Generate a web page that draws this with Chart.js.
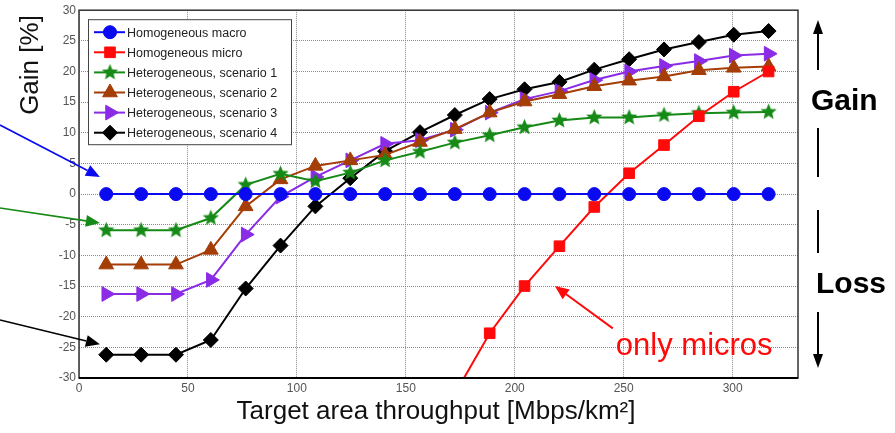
<!DOCTYPE html>
<html>
<head>
<meta charset="utf-8">
<script src="https://cdn.jsdelivr.net/npm/chart.js@4/dist/chart.umd.min.js"></script>
<style>
  html, body { margin: 0; padding: 0; background: #fff; }
  #wrap { position: relative; width: 895px; height: 433px; }
</style>
</head>
<body>
<div id="wrap"><canvas id="gainChart"></canvas></div>
<script>
// data
const throughput = [12.5, 28.5, 44.5, 60.5, 76.5, 92.5, 108.5, 124.5, 140.5, 156.5,
                    172.5, 188.5, 204.5, 220.5, 236.5, 252.5, 268.5, 284.5, 300.5, 316.5];
const homMacro = [0, 0, 0, 0, 0, 0, 0, 0, 0, 0, 0, 0, 0, 0, 0, 0, 0, 0, 0, 0];
const homMicro = [null, null, null, null, null, null, null, null, null, null,
                  -32.6, -22.7, -15.0, -8.5, -2.1, 3.4, 8.0, 12.7, 16.7, 20.0];
const hetScen1 = [-5.9, -5.9, -5.9, -3.9, 1.5, 3.3, 2.1, 3.5, 5.5, 6.9,
                  8.4, 9.6, 10.9, 12.0, 12.5, 12.5, 12.9, 13.2, 13.3, 13.4];
const hetScen2 = [-11.5, -11.5, -11.5, -9.1, -2.0, 2.4, 4.6, 5.5, 6.4, 8.5,
                  10.6, 13.3, 15.1, 16.3, 17.6, 18.5, 19.2, 20.2, 20.6, 20.8];
const hetScen3 = [-16.3, -16.3, -16.3, -14.0, -6.6, -0.4, 2.8, 5.5, 8.2, 8.8,
                  10.5, 13.3, 15.5, 16.8, 18.6, 20.0, 20.9, 21.7, 22.6, 22.9];
const hetScen4 = [-26.2, -26.2, -26.2, -23.8, -15.4, -8.4, -2.0, 2.6, 7.0, 10.1,
                  12.9, 15.5, 17.1, 18.3, 20.3, 22.0, 23.6, 24.8, 26.0, 26.6];
const seriesNames = ["Homogeneous macro", "Homogeneous micro", "Heterogeneous, scenario 1",
                     "Heterogeneous, scenario 2", "Heterogeneous, scenario 3", "Heterogeneous, scenario 4"];
const xTickValues = [0, 50, 100, 150, 200, 250, 300];
const yTickValues = [-30, -25, -20, -15, -10, -5, 0, 5, 10, 15, 20, 25, 30];

// filled star marker (chart.js 'star' is only strokes)
function starCanvas(color, r) {
  const c = document.createElement("canvas");
  const s = Math.ceil(r * 2 + 2);
  c.width = s; c.height = s;
  const g = c.getContext("2d");
  g.fillStyle = color;
  g.beginPath();
  for (let i = 0; i < 10; i++) {
    const rr = i % 2 ? r * 0.45 : r;
    const a = -Math.PI / 2 + i * Math.PI / 5;
    g.lineTo(s / 2 + rr * Math.cos(a), s / 2 + rr * Math.sin(a));
  }
  g.closePath();
  g.fill();
  return c;
}

const styles = [
  { color: "#0a0af0", pointStyle: "circle", radius: 6.5, rotation: 0 },
  { color: "#ff0a0a", pointStyle: "rect", radius: 7.5, rotation: 0 },
  { color: "#168a16", pointStyle: starCanvas("#168a16", 8.5), radius: 8.5, rotation: 0 },
  { color: "#a43d06", pointStyle: "triangle", radius: 8.5, rotation: 0 },
  { color: "#8a2be6", pointStyle: "triangle", radius: 8.5, rotation: 90 },
  { color: "#000000", pointStyle: "rectRot", radius: 7.5, rotation: 0 },
];
const seriesValues = [homMacro, homMicro, hetScen1, hetScen2, hetScen3, hetScen4];

function toPoints(values) {
  return throughput.map((x, i) => ({ x: x, y: values[i] }));
}

const datasets = seriesValues.map((vals, i) => ({
  label: seriesNames[i],
  data: toPoints(vals),
  borderColor: styles[i].color,
  backgroundColor: styles[i].color,
  borderWidth: 2,
  pointStyle: styles[i].pointStyle,
  pointRadius: styles[i].radius,
  pointRotation: styles[i].rotation,
  pointBorderWidth: 1,
  tension: 0,
  spanGaps: false,
}));

function arrow(ctx, x1, y1, x2, y2, color, lw, headLen, headW) {
  const a = Math.atan2(y2 - y1, x2 - x1);
  const bx = x2 - headLen * Math.cos(a), by = y2 - headLen * Math.sin(a);
  ctx.save();
  ctx.strokeStyle = color; ctx.fillStyle = color; ctx.lineWidth = lw;
  ctx.beginPath(); ctx.moveTo(x1, y1); ctx.lineTo(bx, by); ctx.stroke();
  ctx.beginPath();
  ctx.moveTo(x2, y2);
  ctx.lineTo(bx + headW / 2 * Math.sin(a), by - headW / 2 * Math.cos(a));
  ctx.lineTo(bx - headW / 2 * Math.sin(a), by + headW / 2 * Math.cos(a));
  ctx.closePath(); ctx.fill();
  ctx.restore();
}

const decorations = {
  id: "decorations",
  afterDraw(chart) {
    const ctx = chart.ctx;
    const area = chart.chartArea;
    const xs = chart.scales.x, ys = chart.scales.y;
    const px = v => xs.getPixelForValue(v);
    const py = v => ys.getPixelForValue(v);

    // plot frame
    ctx.save();
    ctx.strokeStyle = "#333"; ctx.lineWidth = 1.5;
    ctx.strokeRect(area.left, area.top, area.right - area.left, area.bottom - area.top);
    ctx.strokeStyle = "#000"; ctx.lineWidth = 2;
    ctx.beginPath(); ctx.moveTo(area.left, area.bottom); ctx.lineTo(area.right, area.bottom); ctx.stroke();
    ctx.restore();

    // legend box inside the plot
    const lx = area.left + 9, ly = area.top + 9, lw = 203, lh = 125;
    ctx.save();
    ctx.fillStyle = "#fff";
    ctx.fillRect(lx, ly, lw, lh);
    ctx.strokeStyle = "#444"; ctx.lineWidth = 1;
    ctx.strokeRect(lx + 0.5, ly + 0.5, lw, lh);
    ctx.font = "12.5px 'Liberation Sans', Arial, sans-serif";
    ctx.textBaseline = "middle";
    styles.forEach((st, i) => {
      const y = ly + 13 + i * 20.1;
      ctx.strokeStyle = st.color; ctx.fillStyle = st.color; ctx.lineWidth = 2;
      ctx.beginPath(); ctx.moveTo(lx + 6, y); ctx.lineTo(lx + 37, y); ctx.stroke();
      ctx.lineWidth = 1;
      Chart.helpers.drawPoint(ctx, { pointStyle: st.pointStyle, rotation: st.rotation,
                                     radius: st.radius, borderWidth: 1 }, lx + 22, y);
      ctx.fillStyle = "#222";
      ctx.fillText(seriesNames[i], lx + 39, y + 1);
    });
    ctx.restore();

    // left-side pointer arrows
    arrow(ctx, 0, 125, px(9.6), py(2.8), "#0a0af0", 1.6, 14, 12);
    arrow(ctx, 0, 208, px(9.6), py(-4.7), "#168a16", 1.6, 14, 12);
    arrow(ctx, 0, 320, px(9.6), py(-24.5), "#000", 1.6, 14, 12);

    // "only micros" note
    arrow(ctx, px(245), py(-21.9), px(218.4), py(-15.0), "#ff0a0a", 2, 14, 12);
    ctx.save();
    ctx.fillStyle = "#ff0a0a";
    ctx.font = "31px 'Liberation Sans', Arial, sans-serif";
    ctx.textBaseline = "alphabetic";
    ctx.fillText("only micros", px(246.4), py(-26.3));
    ctx.restore();

    // Gain / Loss marks on the right
    const ax = area.right + 20;
    ctx.save();
    ctx.strokeStyle = "#000"; ctx.lineWidth = 2;
    arrow(ctx, ax, 70, ax, 20, "#000", 2, 14, 10);
    ctx.beginPath(); ctx.moveTo(ax, 128); ctx.lineTo(ax, 177); ctx.stroke();
    ctx.beginPath(); ctx.moveTo(ax, 210); ctx.lineTo(ax, 253); ctx.stroke();
    arrow(ctx, ax, 312, ax, 368, "#000", 2, 14, 10);
    ctx.fillStyle = "#000";
    ctx.font = "bold 30px 'Liberation Sans', Arial, sans-serif";
    ctx.textAlign = "left";
    ctx.textBaseline = "middle";
    ctx.fillText("Gain", area.right + 13, 102);
    ctx.fillText("Loss", area.right + 18, 285);
    ctx.restore();

    // axis titles
    ctx.save();
    ctx.fillStyle = "#111";
    ctx.font = "26px 'Liberation Sans', Arial, sans-serif";
    ctx.textAlign = "center";
    ctx.textBaseline = "middle";
    ctx.fillText("Target area throughput [Mbps/km²]", 436, 412);
    ctx.translate(31, 65);
    ctx.rotate(-Math.PI / 2);
    ctx.fillText("Gain [%]", 0, 0);
    ctx.restore();
  },
};

const ctx = document.getElementById("gainChart").getContext("2d");
const gainChart = new Chart(ctx, {
  type: "line",
  data: { datasets: datasets },
  options: {
    responsive: true,
    maintainAspectRatio: false,
    animation: false,
    layout: { padding: { top: 10, right: 97, left: 0, bottom: 0 } },
    plugins: { legend: { display: false }, tooltip: { enabled: false } },
    scales: {
      x: {
        type: "linear",
        min: 0,
        max: 330,
        afterBuildTicks: s => { s.ticks = xTickValues.map(v => ({ value: v })); },
        afterFit: s => { s.height = 55; },
        grid: { color: "#8a8a8a", lineWidth: 1, drawTicks: false },
        border: { display: false, dash: [1, 1] },
        ticks: { color: "#555", padding: 3, font: { size: 12, family: "'Liberation Sans', Arial" } },
      },
      y: {
        type: "linear",
        min: -30,
        max: 30,
        afterBuildTicks: s => { s.ticks = yTickValues.map(v => ({ value: v })); },
        afterFit: s => { s.width = 79; },
        grid: { color: "#8a8a8a", lineWidth: 1, drawTicks: false },
        border: { display: false, dash: [1, 1] },
        ticks: { color: "#555", padding: 3, font: { size: 12, family: "'Liberation Sans', Arial" } },
      },
    },
  },
  plugins: [decorations],
});
</script>
</body>
</html>
